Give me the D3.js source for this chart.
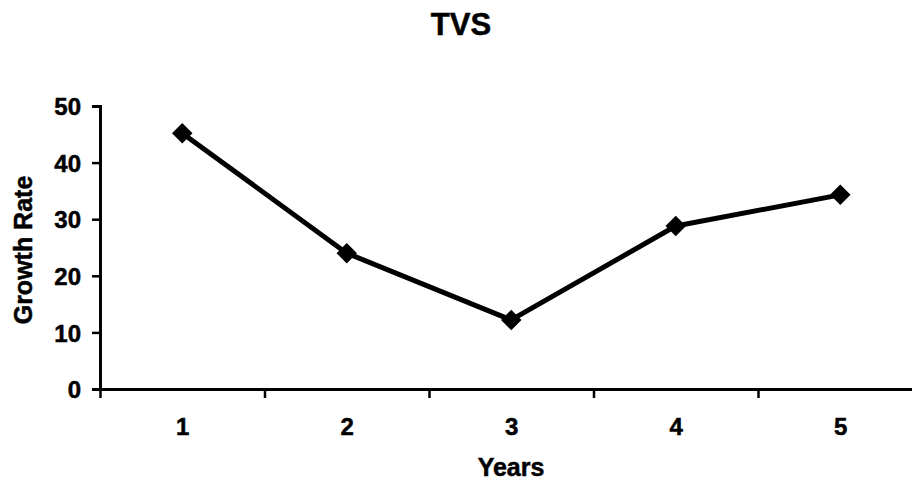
<!DOCTYPE html>
<html>
<head>
<meta charset="utf-8">
<script src="https://cdn.jsdelivr.net/npm/d3@7"></script>
<style>
  body { margin: 0; background: #fff; }
  svg { display: block; font-family: "Liberation Sans", Arial, sans-serif; font-weight: bold; }
  svg text { fill: #000; stroke: #000; stroke-width: 0.5px; }
</style>
</head>
<body>
<div id="chartContainer"></div>
<script>
const years = [1, 2, 3, 4, 5];
const growthRate = [45.2, 24, 12.2, 28.8, 34.3];
const yTicks = [0, 10, 20, 30, 40, 50];
const chartTitle = "TVS";
const xTitle = "Years";
const yTitle = "Growth Rate";

const width = 912;
const height = 486;

const svg = d3
  .select("#chartContainer")
  .append("svg")
  .attr("width", width)
  .attr("height", height);

// x: each year sits in the middle of a 164.5px slot, ticks at slot edges
const x = d3.scaleLinear().domain([0.5, 5.5]).range([100, 922.5]);
const y = d3.scaleLinear().domain([0, 50]).range([389, 106]);

// y axis
const yAxis = svg
  .append("g")
  .attr("transform", "translate(100,0)")
  .call(d3.axisLeft(y).tickValues(yTicks).tickSize(8).tickPadding(11));
yAxis.select(".domain").attr("stroke", "#000").attr("stroke-width", 3);
yAxis.selectAll(".tick line").attr("stroke", "#000").attr("stroke-width", 2.5);
yAxis.selectAll(".tick text").style("font-size", "24px").attr("dy", "0.36em");

// x axis line + tick marks between years
const xAxis = svg
  .append("g")
  .attr("transform", "translate(0,389)")
  .call(
    d3.axisBottom(x)
      .tickValues(d3.range(0.5, 6, 1))
      .tickSize(9)
      .tickSizeOuter(0)
      .tickFormat("")
  );
xAxis.select(".domain").attr("stroke", "#000").attr("stroke-width", 3);
xAxis.selectAll(".tick line").attr("stroke", "#000").attr("stroke-width", 2.5);

// year labels
const xLabels = svg
  .append("g")
  .attr("transform", "translate(0,389)")
  .call(d3.axisBottom(x).tickValues(years).tickSize(0).tickPadding(29).tickFormat(d3.format("d")));
xLabels.select(".domain").remove();
xLabels.selectAll(".tick text").style("font-size", "24px");

// line
const line = d3
  .line()
  .x((d, i) => x(years[i]))
  .y((d) => y(d));

svg
  .append("path")
  .datum(growthRate)
  .attr("fill", "none")
  .attr("stroke", "#000")
  .attr("stroke-width", 5)
  .attr("stroke-linejoin", "round")
  .attr("d", line);

// diamond markers
svg
  .selectAll(".marker")
  .data(growthRate)
  .enter()
  .append("path")
  .attr("class", "marker")
  .attr("d", d3.symbol().type(d3.symbolSquare).size(210))
  .attr("transform", (d, i) => `translate(${x(years[i])},${y(d)}) rotate(45)`)
  .attr("fill", "#000");

// titles
svg
  .append("text")
  .attr("x", 461)
  .attr("y", 35)
  .attr("text-anchor", "middle")
  .style("font-size", "31px")
  .text(chartTitle);

svg
  .append("text")
  .attr("x", 511)
  .attr("y", 476)
  .attr("text-anchor", "middle")
  .style("font-size", "25px")
  .text(xTitle);

svg
  .append("text")
  .attr("transform", "translate(32,250) rotate(-90)")
  .attr("text-anchor", "middle")
  .style("font-size", "25px")
  .text(yTitle);
</script>
</body>
</html>
